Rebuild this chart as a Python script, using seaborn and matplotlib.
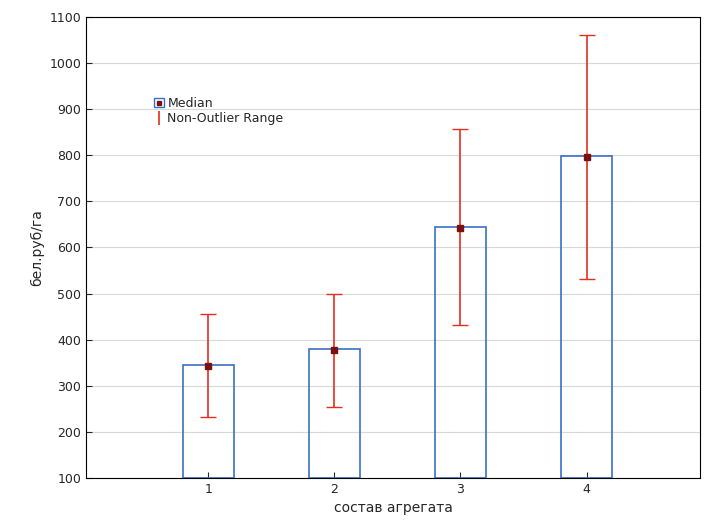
import matplotlib
matplotlib.use("Agg")
import matplotlib.pyplot as plt
import seaborn as sns
import pandas as pd
import numpy as np
from matplotlib.lines import Line2D
from matplotlib.patches import Patch

groups = [1, 2, 3, 4]
medians = [343, 378, 643, 796]
lows = [232, 253, 432, 532]
highs = [455, 500, 857, 1062]

sns.set_style("white")
plt.rcParams['font.family'] = ['DejaVu Sans']
fig, ax = plt.subplots(figsize=(7.05, 5.31), dpi=100)
fig.subplots_adjust(left=0.122, right=0.993, top=0.968, bottom=0.1)
df = pd.DataFrame({"g": groups, "m": medians})
sns.barplot(data=df, x="g", y="m", native_scale=True, width=0.4, fill=False,
            edgecolor="#3a6fc4", linewidth=1.2, ax=ax, bottom=0)
for p in ax.patches:
    p.set_y(100); p.set_height(p.get_height() - 100 + 2)
ax.errorbar(groups, medians, yerr=[np.array(medians)-np.array(lows), np.array(highs)-np.array(medians)],
            fmt="s", color="#e03020", mfc="#7a1010", mec="#7a1010", ms=4, capsize=6, lw=1.2)
ax.set_ylim(100, 1100)
ax.set_xlim(0.03, 4.9)
ax.set_yticks(range(100, 1101, 100))
ax.set_xticks(groups)
ax.yaxis.grid(True, color="#d8d8d8", lw=0.8)
ax.set_axisbelow(True)
for s in ax.spines.values():
    s.set_color("black")
ax.tick_params(axis="both", labelsize=9, direction="in", length=4, left=True, bottom=True)
ax.set_xlabel("состав агрегата", fontsize=10)
ax.set_ylabel("бел.руб/га", fontsize=10)
h1 = (Patch(facecolor="white", edgecolor="#3a6fc4"), Line2D([], [], marker="s", ls="", color="#7a1010", ms=3))
h2 = Line2D([], [], marker="|", ls="", color="#e03020", ms=10, mew=1.2)
ax.legend([h1, h2], ["Median", "Non-Outlier Range"], loc="upper left", bbox_to_anchor=(0.1, 0.84),
          frameon=False, fontsize=9, handlelength=0.8, handletextpad=0.3, borderpad=0, labelspacing=0.2)
fig.savefig("out.png")
